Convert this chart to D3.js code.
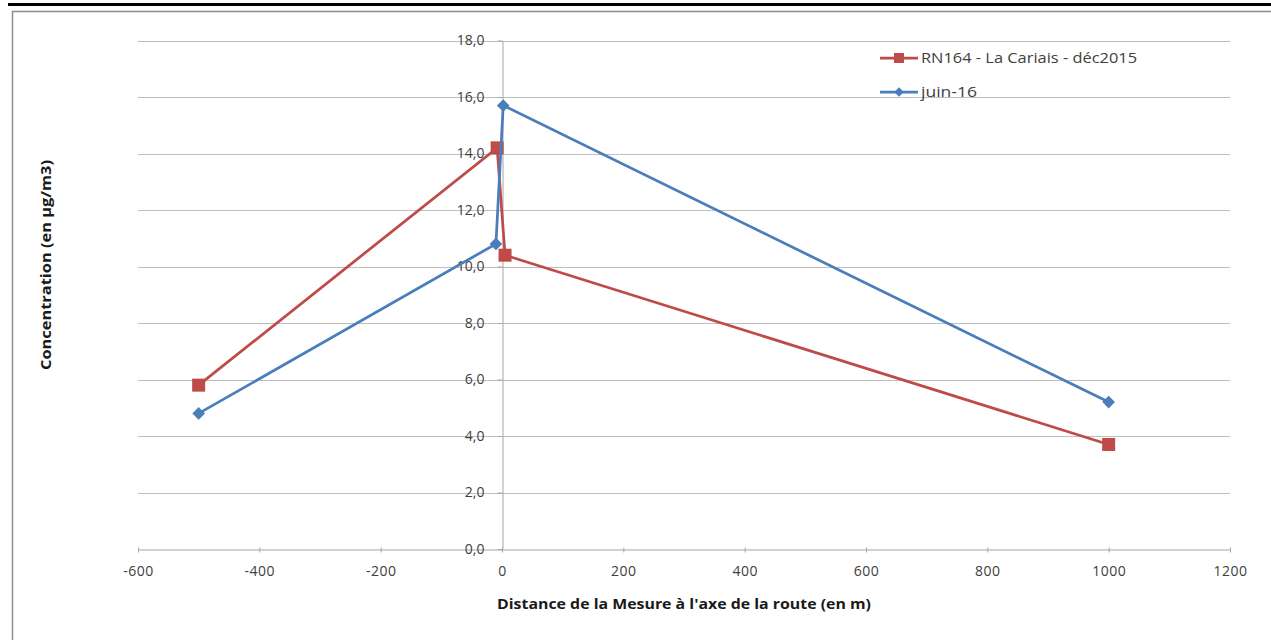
<!DOCTYPE html>
<html><head><meta charset="utf-8">
<script src="https://cdn.jsdelivr.net/npm/d3@7"></script>
<style>
html,body{margin:0;padding:0;background:#fff;}
svg{display:block;font-family:"Open Sans","Liberation Sans",Arial,sans-serif;}
</style></head>
<body><svg id="c" width="1271" height="640"></svg>
<script>
const seriesNames = ["RN164 - La Cariais - déc2015", "juin-16"];
const redX = [-500, -8, 5, 1000];
const redY = [5.8, 14.2, 10.4, 3.7];
const blueX = [-500, -10, 2, 1000];
const blueY = [4.8, 10.8, 15.7, 5.2];
const xTicks = [-600, -400, -200, 0, 200, 400, 600, 800, 1000, 1200];
const yTicks = [0, 2, 4, 6, 8, 10, 12, 14, 16, 18];
const xTitle = "Distance de la Mesure à l'axe de la route (en m)";
const yTitle = "Concentration (en µg/m3)";

const svg = d3.select("#c");
const x = d3.scaleLinear().domain([-600, 1200]).range([138, 1230]);
const y = d3.scaleLinear().domain([0, 18]).range([549, 40.5]);
const RED = "#BE4B48", BLUE = "#4A7EBB";

// square rotated 45° (Excel diamond)
const rhombus = { draw(ctx, size) { const r = Math.sqrt(size) / 2; ctx.moveTo(0, -r); ctx.lineTo(r, 0); ctx.lineTo(0, r); ctx.lineTo(-r, 0); ctx.closePath(); } };

// top rule and chart frame
svg.append("rect").attr("x", 8).attr("y", 3).attr("width", 1263).attr("height", 3).attr("fill", "#000");
svg.append("path").attr("d", "M12.5,645 V11.5 H1280").attr("fill", "none").attr("stroke", "#8c8c8c").attr("stroke-width", 1.5);

// gridlines
svg.append("g").selectAll("line").data(yTicks.filter(d => d > 0)).join("line")
  .attr("x1", x(-600)).attr("x2", x(1200))
  .attr("y1", d => Math.round(y(d)) + 0.5).attr("y2", d => Math.round(y(d)) + 0.5)
  .attr("stroke", "#bfbfbf").attr("stroke-width", 1);

// x axis at y=0
const xAxis = d3.axisBottom(x).tickValues(xTicks).tickSize(4).tickSizeOuter(0).tickFormat(d => d);
const gx = svg.append("g").attr("transform", `translate(0,${Math.round(y(0)) + 0.5})`).call(xAxis);
gx.select(".domain").attr("stroke", "#a6a6a6");
gx.selectAll(".tick line").attr("stroke", "#a6a6a6").attr("y1", -2).attr("y2", 3);
gx.selectAll("text").attr("fill", "#404040").attr("font-size", 14).attr("font-family", "Open Sans").attr("y", 17).attr("dy", "0.71em").attr("letter-spacing", 0.5);

// y axis at x=0
const yAxis = d3.axisLeft(y).tickValues(yTicks).tickSize(5).tickSizeOuter(0)
  .tickFormat(d => d3.format(".1f")(d).replace(".", ","));
const gy = svg.append("g").attr("transform", `translate(${Math.round(x(0)) + 0.5},0)`).call(yAxis);
gy.select(".domain").attr("stroke", "#a6a6a6");
gy.selectAll(".tick line").attr("stroke", "#a6a6a6");
gy.selectAll("text").attr("fill", "#404040").attr("font-size", 14).attr("font-family", "Open Sans").attr("x", -18);

// titles
svg.append("text").attr("x", 684).attr("y", 609).attr("text-anchor", "middle")
  .attr("font-weight", "bold").attr("font-size", 15).attr("fill", "#1a1a1a")
  .attr("textLength", 374).attr("lengthAdjust", "spacingAndGlyphs").text(xTitle);
svg.append("text").attr("transform", "translate(51,265) rotate(-90)").attr("text-anchor", "middle")
  .attr("font-weight", "bold").attr("font-size", 15).attr("fill", "#1a1a1a")
  .attr("textLength", 210).attr("lengthAdjust", "spacingAndGlyphs").text(yTitle);

const line = d3.line().x(d => x(d[0])).y(d => y(d[1]));
const redData = redX.map((v, i) => [v, redY[i]]);
const blueData = blueX.map((v, i) => [v, blueY[i]]);

svg.append("path").datum(redData).attr("d", line).attr("fill", "none").attr("stroke", RED).attr("stroke-width", 2.75);
svg.selectAll(".rm").data(redData).join("rect").attr("class", "rm")
  .attr("x", d => x(d[0]) - 6.5).attr("y", d => y(d[1]) - 6.5).attr("width", 13).attr("height", 13).attr("fill", RED);

svg.append("path").datum(blueData).attr("d", line).attr("fill", "none").attr("stroke", BLUE).attr("stroke-width", 2.75);
const diamond = d3.symbol().type(rhombus).size(160);
svg.selectAll(".bm").data(blueData).join("path").attr("class", "bm")
  .attr("d", diamond).attr("transform", d => `translate(${x(d[0])},${y(d[1])})`).attr("fill", BLUE);

// legend
const lg = svg.append("g");
const legendItems = [{name: seriesNames[0], color: RED, sym: "sq", y: 58}, {name: seriesNames[1], color: BLUE, sym: "di", y: 92}];
legendItems.forEach(it => {
  lg.append("line").attr("x1", 880).attr("x2", 918).attr("y1", it.y).attr("y2", it.y).attr("stroke", it.color).attr("stroke-width", 2.75);
  if (it.sym === "sq") lg.append("rect").attr("x", 894).attr("y", it.y - 5).attr("width", 10).attr("height", 10).attr("fill", it.color);
  else lg.append("path").attr("d", d3.symbol().type(rhombus).size(90)).attr("transform", `translate(899,${it.y})`).attr("fill", it.color);
  lg.append("text").attr("x", 921).attr("y", it.y).attr("dy", "0.35em").attr("font-size", 14).attr("fill", "#404040")
    .attr("textLength", it.sym === "sq" ? 216 : 56).attr("lengthAdjust", "spacingAndGlyphs").text(it.name);
});
</script></body></html>
